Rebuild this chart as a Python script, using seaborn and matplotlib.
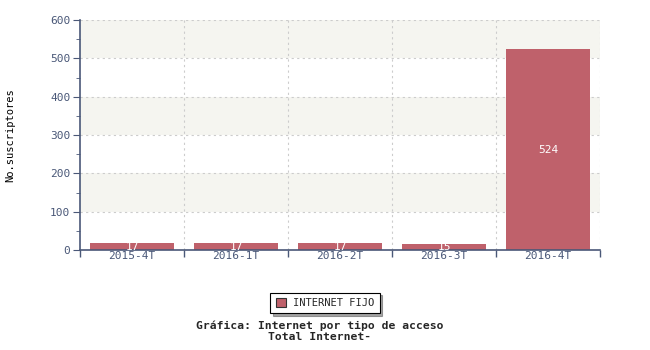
import matplotlib
matplotlib.use("Agg")
import matplotlib.pyplot as plt
import seaborn as sns
import pandas as pd
from matplotlib.patches import Rectangle
from matplotlib.ticker import MultipleLocator, FixedLocator

periodos = ["2015-4T", "2016-1T", "2016-2T", "2016-3T", "2016-4T"]
valores = [17, 17, 17, 15, 524]
serie = "INTERNET FIJO"
titulo = "Gráfica: Internet por tipo de acceso\nTotal Internet-"
ylabel = "No.suscriptores"

bar_color = "#bf616b"
axis_color = "#4a5878"
mono = "DejaVu Sans Mono"

sns.set_style("white")
plt.rcParams["font.family"] = [mono]

df = pd.DataFrame({"periodo": periodos, "valor": valores, "serie": serie})

fig = plt.figure(figsize=(6.5, 3.5), dpi=100)
ax = fig.add_axes([80/650, 100/350, 520/650, 230/350])

ax.set_ylim(0, 600)

# alternating background bands
for lo in (100, 300, 500):
    ax.axhspan(lo, lo + 100, color="#f5f5f0", zorder=0, lw=0)

sns.barplot(data=df, x="periodo", y="valor", color=bar_color, width=0.8,
            saturation=1, ax=ax, zorder=2, linewidth=0)
ax.set_xlim(-0.5, len(periodos) - 0.5)
ax.set_ylim(0, 600)

bars = ax.containers[0]
for p, v in zip(bars, valores):
    ax.text(p.get_x() + p.get_width()/2, v/2, str(v), ha="center", va="center",
            color="white", fontsize=8, family=mono, zorder=3)

ax.yaxis.set_major_locator(MultipleLocator(100))
ax.yaxis.set_minor_locator(MultipleLocator(50))
ax.xaxis.set_major_locator(FixedLocator(range(len(periodos))))
ax.set_xticklabels(periodos)
ax.xaxis.set_minor_locator(FixedLocator([i + 0.5 for i in range(-1, len(periodos))]))

ax.grid(False)
for y in range(100, 601, 100):
    ax.axhline(y, color="#cccccc", ls=(0, (2, 3)), lw=0.8, zorder=1)
for x in [i + 0.5 for i in range(len(periodos))]:
    ax.axvline(x, color="#cccccc", ls=(0, (2, 3)), lw=0.8, zorder=1)

for s in ["top", "right"]:
    ax.spines[s].set_visible(False)
for s in ["left", "bottom"]:
    ax.spines[s].set_color(axis_color)
    ax.spines[s].set_linewidth(1.2)

ax.tick_params(axis="y", which="major", direction="out", length=5, color=axis_color,
               labelcolor=axis_color, labelsize=8, pad=2)
ax.tick_params(axis="y", which="minor", direction="out", length=3, color=axis_color)
ax.tick_params(axis="x", which="major", length=0, labelcolor=axis_color, labelsize=8, pad=1)
ax.tick_params(axis="x", which="minor", direction="out", length=5, color=axis_color, width=1)
ax.tick_params(left=True, bottom=True, which="both")

ax.set_xlabel("")
ax.set_ylabel("")
fig.text(10/650, 1 - 135/350, ylabel, rotation=90, ha="center", va="center",
         fontsize=7.5, family=mono, color="black")

leg = ax.legend(handles=[Rectangle((0, 0), 1, 1, facecolor=bar_color, edgecolor="#333333", lw=0.8)],
                labels=[serie], loc="center", bbox_to_anchor=(325/650, 1 - 303/350),
                bbox_transform=fig.transFigure, frameon=True, fancybox=False, shadow=True,
                prop={"family": mono, "size": 7.5}, handlelength=1.0, handleheight=1.0,
                borderpad=0.5, handletextpad=0.7, borderaxespad=0)
leg.get_frame().set_edgecolor("black")
leg.get_frame().set_linewidth(0.8)

fig.text(320/650, 1 - 331.5/350, titulo, ha="center", va="center", fontsize=8.2,
         family=mono, fontweight="bold", linespacing=1.15)

fig.savefig("out.png", dpi=100)
